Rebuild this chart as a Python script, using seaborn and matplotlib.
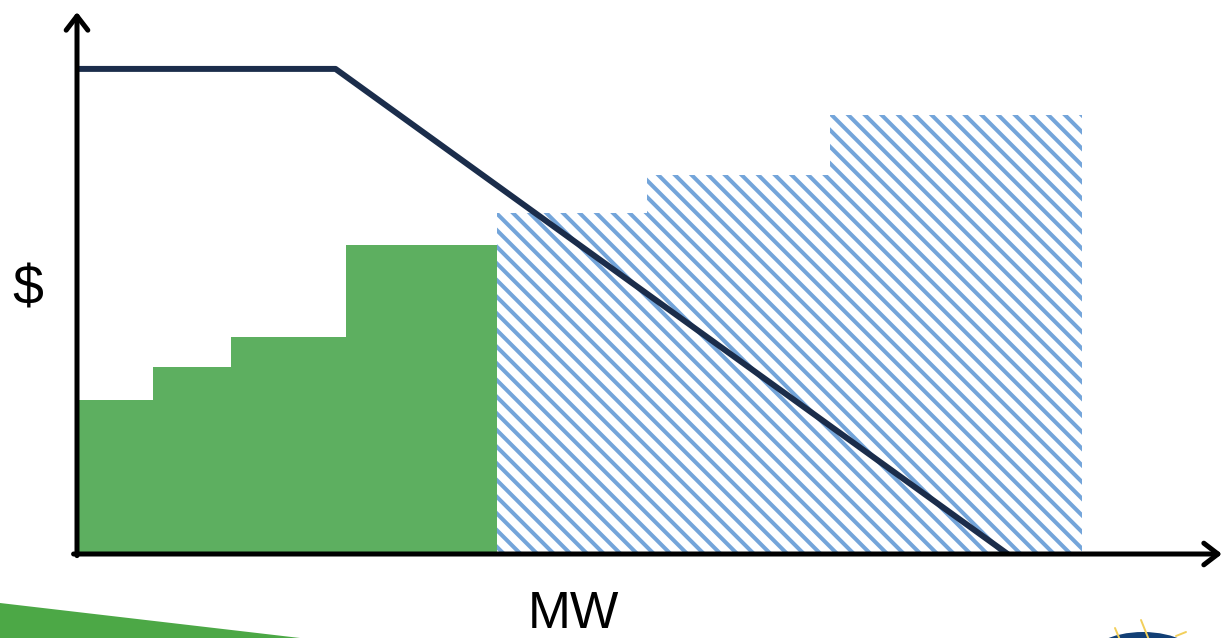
import numpy as np
import matplotlib
matplotlib.use("Agg")
import matplotlib.pyplot as plt
from matplotlib.patches import Polygon, Circle
import seaborn as sns

# Offer stack: block sizes (MW) and offer prices ($/MWh), in merit order
offer_mw = [50, 51, 76, 99, 99, 120, 166]
offer_price = [28.5, 34.5, 40, 57, 63, 70, 81]
offer_cleared = [True, True, True, True, False, False, False]

# Demand curve break points
demand_mw = [0, 170, 612]
demand_price = [89.5, 89.5, 0]

x_label = "MW"
y_label = "$"

sns.set_theme(style="white")
plt.rcParams["font.family"] = ["Liberation Sans", "DejaVu Sans"]
plt.rcParams["text.color"] = "black"
plt.rcParams["hatch.linewidth"] = 2.9

DPI = 100
fig = plt.figure(figsize=(1226 / DPI, 638 / DPI), dpi=DPI)
ax = fig.add_axes([77 / 1226, 84 / 638, 1145 / 1226, 542 / 638])

lefts = np.concatenate([[0], np.cumsum(offer_mw)[:-1]])
for x0, w, p, cleared in zip(lefts, offer_mw, offer_price, offer_cleared):
    if cleared:
        ax.bar(x0, p, width=w, align="edge", color="#5daf60",
               edgecolor="none", linewidth=0, zorder=2)
    else:
        ax.bar(x0, p, width=w, align="edge", facecolor="white",
               edgecolor="#74a5da", hatch="\\\\", linewidth=0, zorder=2)

sns.lineplot(x=demand_mw, y=demand_price, ax=ax, color="#1b2d4b",
             linewidth=4.3, zorder=4, sort=False)

ax.set_xlim(0, 753)
ax.set_ylim(0, 100)
ax.set_xticks([])
ax.set_yticks([])
for s in ax.spines.values():
    s.set_visible(False)
ax.set_xlabel("")
ax.set_ylabel("")

# Axis arrows
arrow = dict(arrowstyle="->,head_length=0.65,head_width=0.5", color="black",
             lw=3.6, mutation_scale=15.6, shrinkA=0, shrinkB=0)
ax.annotate("", xy=(0, 1), xytext=(0, -0.003), xycoords="axes fraction",
            arrowprops=arrow, annotation_clip=False, zorder=5)
ax.annotate("", xy=(1, 0), xytext=(-0.003, 0), xycoords="axes fraction",
            arrowprops=arrow, annotation_clip=False, zorder=5)

# Axis titles
fig.text(28 / 1226, 1 - 290 / 638, y_label, fontsize=40, ha="center",
         va="center", color="black")
fig.text(573 / 1226, 1 - 614 / 638, x_label, fontsize=37, ha="center",
         va="center", color="black")

# Footer decoration: green swoosh and emblem
fig.patches.append(Polygon([(0, 35 / 638), (300 / 1226, 0), (0, 0)],
                           closed=True, transform=fig.transFigure,
                           facecolor="#4ca846", edgecolor="none"))
fig.patches.append(Circle((1143 / 1226, -24 / 638), 30 / 638,
                          transform=fig.transFigure, facecolor="#123f75",
                          edgecolor="none"))
for (x0, y0, x1, y1) in [(1115, 628, 1120, 640), (1141, 620, 1149, 640),
                         (1176, 636, 1186, 632)]:
    fig.add_artist(plt.Line2D([x0 / 1226, x1 / 1226],
                              [1 - y0 / 638, 1 - y1 / 638],
                              transform=fig.transFigure, color="#f2cf5a",
                              lw=1.4))

fig.savefig("out.png", dpi=DPI, facecolor="white")
